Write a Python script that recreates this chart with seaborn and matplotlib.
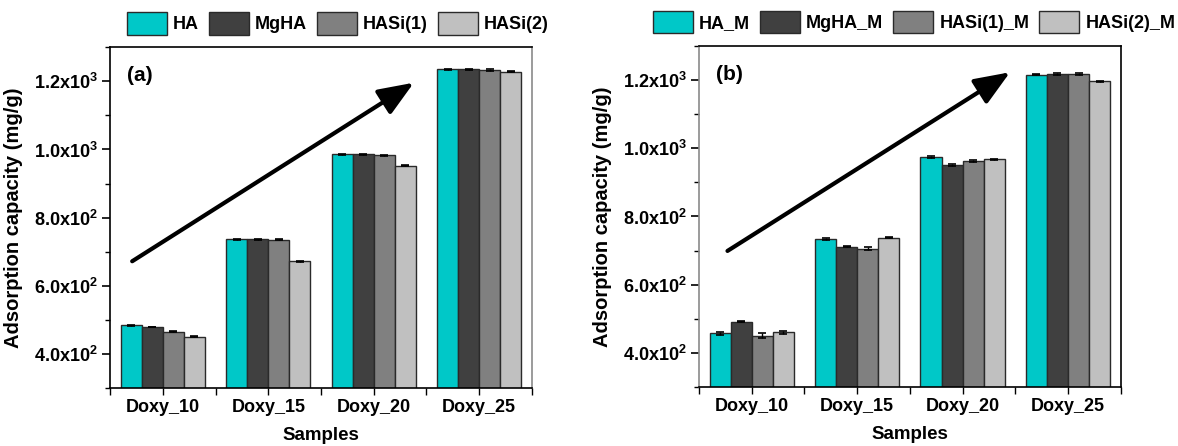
import matplotlib
matplotlib.use("Agg")
import numpy as np
import pandas as pd
import seaborn as sns
import matplotlib.pyplot as plt
from matplotlib.ticker import FixedLocator, FixedFormatter, MultipleLocator

# ---------------- data ----------------
samples = ["Doxy_10", "Doxy_15", "Doxy_20", "Doxy_25"]

series_a = ["HA", "MgHA", "HASi(1)", "HASi(2)"]
ha_a = [484, 736, 986, 1235]
mgha_a = [479, 736, 986, 1235]
hasi1_a = [465, 735, 983, 1233]
hasi2_a = [451, 672, 953, 1228]
err_ha_a = [2, 2, 2, 2]
err_mgha_a = [1, 1, 1, 1]
err_hasi1_a = [1, 2, 2, 2]
err_hasi2_a = [2, 2, 2, 1]

series_b = ["HA_M", "MgHA_M", "HASi(1)_M", "HASi(2)_M"]
ha_b = [457, 735, 974, 1216]
mgha_b = [492, 711, 951, 1218]
hasi1_b = [451, 706, 962, 1218]
hasi2_b = [460, 738, 968, 1196]
err_ha_b = [4, 3, 2, 2]
err_mgha_b = [2, 1, 3, 2]
err_hasi1_b = [6, 5, 3, 2]
err_hasi2_b = [5, 1, 2, 1]

ytick_values = [400, 600, 800, 1000, 1200]
ytick_labels = ["4.0x10$^{2}$", "6.0x10$^{2}$", "8.0x10$^{2}$",
                "1.0x10$^{3}$", "1.2x10$^{3}$"]

# trend arrows (start -> end) in data coordinates
arrow_a = [(-0.29, 672), (2.38, 1196)]
arrow_b = [(-0.23, 699), (2.45, 1223)]

colors = ["#00C8C8", "#404040", "#808080", "#C0C0C0"]

# ---------------- style ----------------
sns.set_style("ticks")
plt.rcParams["font.family"] = ["Liberation Sans", "DejaVu Sans"]
plt.rcParams["font.weight"] = "bold"
plt.rcParams["text.color"] = "black"
plt.rcParams["axes.labelcolor"] = "black"
plt.rcParams["xtick.color"] = "black"
plt.rcParams["ytick.color"] = "black"
plt.rcParams["mathtext.fontset"] = "custom"
plt.rcParams["mathtext.bf"] = "Liberation Sans:bold"
plt.rcParams["mathtext.rm"] = "Liberation Sans:bold"
plt.rcParams["mathtext.default"] = "bf"

fig = plt.figure(figsize=(11.78, 4.46), dpi=100)
ax_a = fig.add_axes([0.0934, 0.130, 0.3582, 0.764])
ax_b = fig.add_axes([0.5934, 0.1323, 0.358, 0.7646])


def make_df(series, vals):
    rows = []
    for s, v in zip(series, vals):
        for cat, val in zip(samples, v):
            rows.append({"Samples": cat, "value": val, "series": s})
    return pd.DataFrame(rows)


def draw(ax, series, vals, errs, arrow, letter, leg_x, left_spine_col, right_spine_col):
    df = make_df(series, vals)
    sns.barplot(data=df, x="Samples", y="value", hue="series",
                hue_order=series, order=samples,
                palette=colors, saturation=1, errorbar=None,
                edgecolor="#2a2a2a", linewidth=1.0, ax=ax, width=0.8)
    # error bars at the bar centres drawn by seaborn
    for cont, e in zip(ax.containers, errs):
        xs = [b.get_x() + b.get_width() / 2 for b in cont]
        hs = [b.get_height() for b in cont]
        ax.errorbar(xs, hs, yerr=e, fmt="none", ecolor="black",
                    elinewidth=1.0, capsize=3, capthick=1.2, zorder=5)

    ax.set_xlim(-0.5, 3.5)
    ax.set_ylim(300, 1300)
    ax.yaxis.set_major_locator(FixedLocator(ytick_values))
    ax.yaxis.set_major_formatter(FixedFormatter(ytick_labels))
    ax.yaxis.set_minor_locator(MultipleLocator(100))
    ax.xaxis.set_minor_locator(FixedLocator([-0.5, 0.5, 1.5, 2.5, 3.5]))
    ax.tick_params(axis="y", which="major", direction="out", length=6, width=1.2,
                   labelsize=13, pad=3)
    ax.tick_params(axis="y", which="minor", direction="out", length=3.5, width=1.0)
    ax.tick_params(axis="x", which="both", direction="out", length=5, width=1.0,
                   labelsize=13, pad=3)
    for lab in ax.get_xticklabels() + ax.get_yticklabels():
        lab.set_fontweight("bold")
    ax.set_xlabel("Samples", fontsize=13.5, fontweight="bold", labelpad=8)
    ax.set_ylabel("Adsorption capacity (mg/g)", fontsize=14.5, fontweight="bold",
                  labelpad=8)
    for sp in ax.spines.values():
        sp.set_visible(True)
        sp.set_linewidth(1.2)
        sp.set_color("black")
    ax.spines["left"].set_color(left_spine_col)
    ax.spines["right"].set_color(right_spine_col)

    ax.annotate("", xy=arrow[1], xytext=arrow[0],
                arrowprops=dict(arrowstyle="-|>,head_length=0.45,head_width=0.18",
                                lw=3, color="black", mutation_scale=48,
                                shrinkA=0, shrinkB=0), zorder=6)
    ax.text(0.04, 0.945, letter, transform=ax.transAxes, fontsize=15,
            fontweight="bold", va="top", ha="left")

    handles, labels = ax.get_legend_handles_labels()
    ax.legend(handles, labels, ncol=4, loc="lower center",
              bbox_to_anchor=(leg_x, 1.005), frameon=False,
              handlelength=2.2, handleheight=1.55, columnspacing=0.55,
              handletextpad=0.35, borderaxespad=0.2,
              prop={"weight": "bold", "size": 13})


draw(ax_a, series_a, [ha_a, mgha_a, hasi1_a, hasi2_a],
     [err_ha_a, err_mgha_a, err_hasi1_a, err_hasi2_a], arrow_a, "(a)", 0.54,
     "black", "#8a8a8a")
draw(ax_b, series_b, [ha_b, mgha_b, hasi1_b, hasi2_b],
     [err_ha_b, err_mgha_b, err_hasi1_b, err_hasi2_b], arrow_b, "(b)", 0.51,
     "#8a8a8a", "black")

fig.savefig("out.png", dpi=100)
